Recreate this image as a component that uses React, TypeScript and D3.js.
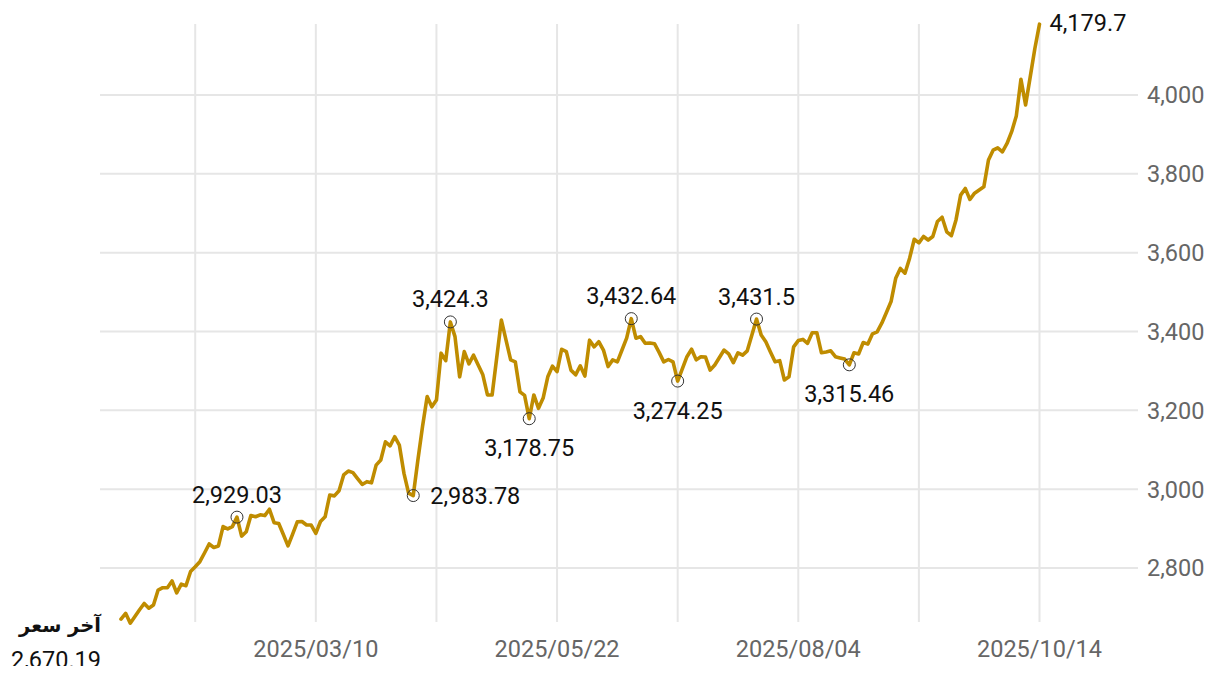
import React from "react";
import * as d3 from "d3";

const prices: number[] = [
  2670.19, 2685, 2660, 2677, 2694, 2710, 2698, 2706, 2744, 2750,
  2750, 2767, 2737, 2759, 2755, 2791, 2803, 2816, 2838, 2861,
  2852, 2856, 2905, 2899, 2905, 2929.03, 2881, 2892, 2933, 2930,
  2935, 2933, 2949, 2915, 2913, 2885, 2856, 2886, 2917, 2918,
  2909, 2909, 2888, 2918, 2930, 2985, 2983, 2996, 3036, 3046,
  3042, 3027, 3012, 3019, 3016, 3061, 3074, 3120, 3110, 3133,
  3112, 3040, 2990, 2983.78, 3074, 3159, 3235, 3209, 3226, 3345,
  3326, 3424.3, 3387, 3285, 3349, 3318, 3340, 3315, 3290, 3239,
  3239, 3334, 3429, 3378, 3328, 3323, 3247, 3238, 3178.75, 3239,
  3205, 3231, 3285, 3312, 3298, 3355, 3349, 3302, 3290, 3313,
  3287, 3378, 3361, 3374, 3353, 3311, 3328, 3323, 3353, 3383,
  3432.64, 3383, 3387, 3370, 3371, 3369, 3347, 3323, 3329, 3323,
  3274.25, 3305, 3336, 3355, 3328, 3336, 3335, 3302, 3315, 3334,
  3353, 3343, 3321, 3346, 3340, 3351, 3391, 3431.5, 3391, 3374,
  3348, 3323, 3326, 3277, 3285, 3361, 3377, 3380, 3370, 3397,
  3397, 3346, 3348, 3351, 3336, 3333, 3330, 3315.46, 3346, 3343,
  3372, 3368, 3394, 3399, 3421, 3448, 3476, 3535, 3560, 3548,
  3586, 3634, 3625, 3641, 3632, 3641, 3679, 3690, 3653, 3643,
  3683, 3746, 3763, 3735, 3751, 3759, 3767, 3835, 3860, 3866,
  3856, 3877, 3907, 3947, 4040, 3975, 4046, 4118, 4179.7,
];

// annotated extremes: index into prices, label placement
const markIndex: number[] = [25, 63, 71, 88, 110, 120, 137, 157];
const markPlace: string[] = ["above", "right", "above", "below", "above", "below", "above", "below"];

const xTickLabels: string[] = ["2025/03/10", "2025/05/22", "2025/08/04", "2025/10/14"];
const xTickIndex: number[] = [42, 94, 146, 198];
const xGridStep = 26;
const yTicks: number[] = [2800, 3000, 3200, 3400, 3600, 3800, 4000];

const lastLabel = "آخر سعر";

const W = 1220;
const H = 674;
const GOLD = "#bf8c00";
const GRID = "#e6e6e6";
const FONT = "Roboto, 'DejaVu Sans', sans-serif";
const FS = 23.5;

const fmt = (v: number) =>
  v.toLocaleString("en-US", { maximumFractionDigits: 2 });

export default function App() {
  const n = prices.length;
  const x = d3.scaleLinear().domain([0, n - 1]).range([121, 1039.5]);
  const y = d3.scaleLinear().domain([2800, 4000]).range([568, 95]);

  const line = d3
    .line<number>()
    .x((_, i) => x(i))
    .y((d) => y(d));

  const gridIdx: number[] = [];
  for (let i = n - 1; i >= 0; i -= xGridStep) gridIdx.push(i);

  return (
    <svg
      width={W}
      height={H}
      style={{ position: "absolute", left: 0, top: 0, background: "#fff" }}
      fontFamily={FONT}
    >
      <defs>
        <clipPath id="clipBottom">
          <rect x={0} y={0} width={W} height={666} />
        </clipPath>
      </defs>
      {/* vertical grid */}
      {gridIdx.map((i) => (
        <line key={"vg" + i} x1={x(i)} x2={x(i)} y1={24} y2={622} stroke={GRID} strokeWidth={2} />
      ))}
      {/* horizontal grid + y labels */}
      {yTicks.map((t) => (
        <g key={"yt" + t}>
          <line x1={100} x2={1138} y1={y(t)} y2={y(t)} stroke={GRID} strokeWidth={2} />
          <text x={1147} y={y(t)} dy="0.36em" fontSize={FS} fill="#666">
            {d3.format(",")(t)}
          </text>
        </g>
      ))}
      {/* x labels */}
      {xTickLabels.map((lab, k) => (
        <text key={lab} x={x(xTickIndex[k])} y={649} dy="0.36em" textAnchor="middle" fontSize={FS} fill="#666">
          {lab}
        </text>
      ))}

      <path d={line(prices) || ""} fill="none" stroke={GOLD} strokeWidth={3.6} strokeLinejoin="round" strokeLinecap="round" />

      {/* markers */}
      {markIndex.map((i, k) => {
        const cx = x(i);
        const cy = y(prices[i]);
        const place = markPlace[k];
        let tx = cx;
        let ty = cy;
        let anchor = "middle";
        if (place === "above") ty = cy - 23;
        else if (place === "below") ty = cy + 29;
        else {
          tx = cx + 17;
          anchor = "start";
        }
        return (
          <g key={"m" + i}>
            <circle cx={cx} cy={cy} r={6} fill="none" stroke="#333" strokeWidth={1} />
            <text x={tx} y={ty} dy="0.36em" textAnchor={anchor} fontSize={FS} fill="#111">
              {fmt(prices[i])}
            </text>
          </g>
        );
      })}

      {/* last value */}
      <text x={x(n - 1) + 10} y={y(prices[n - 1]) - 2} dy="0.36em" fontSize={FS} fill="#111">
        {fmt(prices[n - 1])}
      </text>

      {/* first value label */}
      <text x={101} y={625} dy="0.36em" textAnchor="end" fontSize={19.5} fontWeight="bold" fill="#111" fontFamily="'DejaVu Sans', sans-serif">
        {lastLabel}
      </text>
      <g clipPath="url(#clipBottom)">
        <text x={101} y={660} dy="0.36em" textAnchor="end" fontSize={FS} fill="#111">
          {fmt(prices[0])}
        </text>
      </g>
    </svg>
  );
}
